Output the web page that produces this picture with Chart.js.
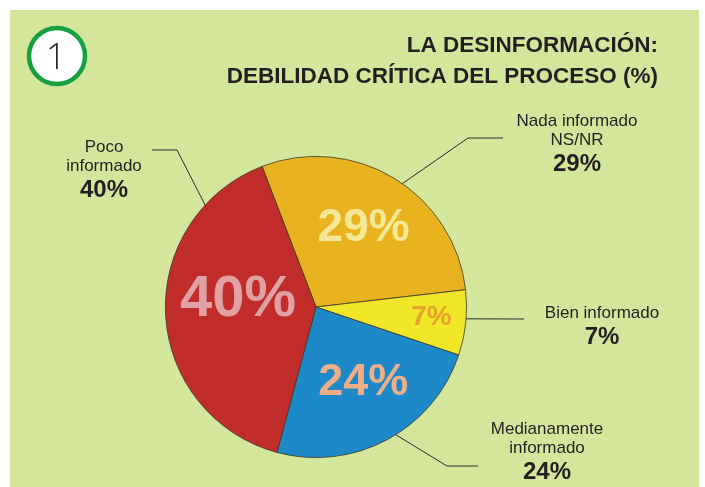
<!DOCTYPE html>
<html>
<head>
<meta charset="utf-8">
<script src="https://cdn.jsdelivr.net/npm/chart.js@4.4.1/dist/chart.umd.min.js"></script>
<style>
  html, body { margin: 0; padding: 0; background: #ffffff; }
  #wrap { width: 705px; height: 487px; position: relative; }
</style>
</head>
<body>
<div id="wrap"><canvas id="pieChart" width="705" height="487"></canvas></div>
<script>
// data
const categories = ["Nada informado NS/NR", "Bien informado", "Medianamente informado", "Poco informado"];
const values = [29, 7, 24, 40];
const sliceColors = ["#e9b31f", "#f1e627", "#1d89c9", "#c02d2a"];
const innerLabelColors = ["#f4e894", "#e2a42a", "#eeae8a", "#dfa1a3"];
const outsideLines = [["Nada informado", "NS/NR"], ["Bien informado"], ["Medianamente", "informado"], ["Poco", "informado"]];

// layout for the annotations (text anchors and leader elbows)
const innerPlace = [
  { frac: 0.61, shift: 0, size: 46 },
  { frac: 0.77, shift: -1, size: 28 },
  { frac: 0.59, shift: -4, size: 45 },
  { frac: 0.52, shift: 8, size: 58 }
];
const outsidePlace = [
  { x: 577, y: 126, elbow: [[503, 138], [468, 138]], edge: 35 },
  { x: 602, y: 318, elbow: [[524, 319]], edge: 94.5 },
  { x: 547, y: 434, elbow: [[478, 466], [447, 466]], edge: 148 },
  { x: 104, y: 152, elbow: [[152, 150], [177, 150]], edge: 312.6 }
];

const FONT = "'Liberation Sans', Arial, sans-serif";

const decorPlugin = {
  id: "decor",
  beforeDraw(chart) {
    const ctx = chart.ctx;
    ctx.save();
    ctx.fillStyle = "#ffffff";
    ctx.fillRect(0, 0, chart.width, chart.height);
    ctx.fillStyle = "#d4e69c";
    ctx.fillRect(10, 10, 689, 477);
    ctx.restore();
  },
  afterDraw(chart) {
    const ctx = chart.ctx;
    const arcs = chart.getDatasetMeta(0).data;
    const cx = arcs[0].x, cy = arcs[0].y, r = arcs[0].outerRadius;
    ctx.save();

    // number badge
    ctx.beginPath();
    ctx.arc(57, 56, 28, 0, Math.PI * 2);
    ctx.fillStyle = "#ffffff";
    ctx.fill();
    ctx.lineWidth = 4.5;
    ctx.strokeStyle = "#16a040";
    ctx.stroke();
    ctx.fillStyle = "#2a2a2a";
    ctx.font = "300 36px 'Open Sans', " + FONT;
    ctx.textAlign = "center";
    ctx.textBaseline = "alphabetic";
    ctx.fillText("1", 56, 69);

    // title
    ctx.fillStyle = "#231f20";
    ctx.textAlign = "right";
    ctx.font = "bold 22.5px " + FONT;
    ctx.fillText("LA DESINFORMACIÓN:", 658, 52);
    ctx.fillText("DEBILIDAD CRÍTICA DEL PROCESO (%)", 658, 83);

    // inner percentages
    arcs.forEach((arc, i) => {
      const p = innerPlace[i];
      const mid = (arc.startAngle + arc.endAngle) / 2 + p.shift * Math.PI / 180;
      const d = r * p.frac;
      const x = cx + Math.cos(mid) * d;
      const y = cy + Math.sin(mid) * d;
      ctx.font = "bold " + p.size + "px " + FONT;
      ctx.fillStyle = innerLabelColors[i];
      ctx.textAlign = "center";
      ctx.textBaseline = "middle";
      ctx.fillText(values[i] + "%", x, y);
    });

    // outside labels and leader lines
    ctx.strokeStyle = "#2b2b2b";
    ctx.lineWidth = 1;
    outsidePlace.forEach((o, i) => {
      const a = (o.edge - 90) * Math.PI / 180;
      ctx.beginPath();
      ctx.moveTo(o.elbow[0][0], o.elbow[0][1]);
      for (let k = 1; k < o.elbow.length; k++) ctx.lineTo(o.elbow[k][0], o.elbow[k][1]);
      ctx.lineTo(cx + Math.cos(a) * r, cy + Math.sin(a) * r);
      ctx.stroke();

      ctx.textAlign = "center";
      ctx.textBaseline = "alphabetic";
      ctx.fillStyle = "#231f20";
      ctx.font = "17px " + FONT;
      let y = o.y;
      outsideLines[i].forEach((t) => {
        ctx.fillText(t, o.x, y);
        y += 19;
      });
      ctx.font = "bold 24px " + FONT;
      ctx.fillText(values[i] + "%", o.x, y + 7);
    });

    ctx.restore();
  }
};

new Chart(document.getElementById("pieChart"), {
  type: "pie",
  data: {
    labels: categories,
    datasets: [{
      data: values,
      backgroundColor: sliceColors,
      borderColor: "#3a3a2a",
      borderWidth: 0.8
    }]
  },
  options: {
    responsive: false,
    animation: false,
    rotation: -21,
    layout: { padding: { left: 165, right: 238, top: 156, bottom: 29 } },
    plugins: {
      legend: { display: false },
      tooltip: { enabled: false }
    }
  },
  plugins: [decorPlugin]
});
</script>
</body>
</html>
